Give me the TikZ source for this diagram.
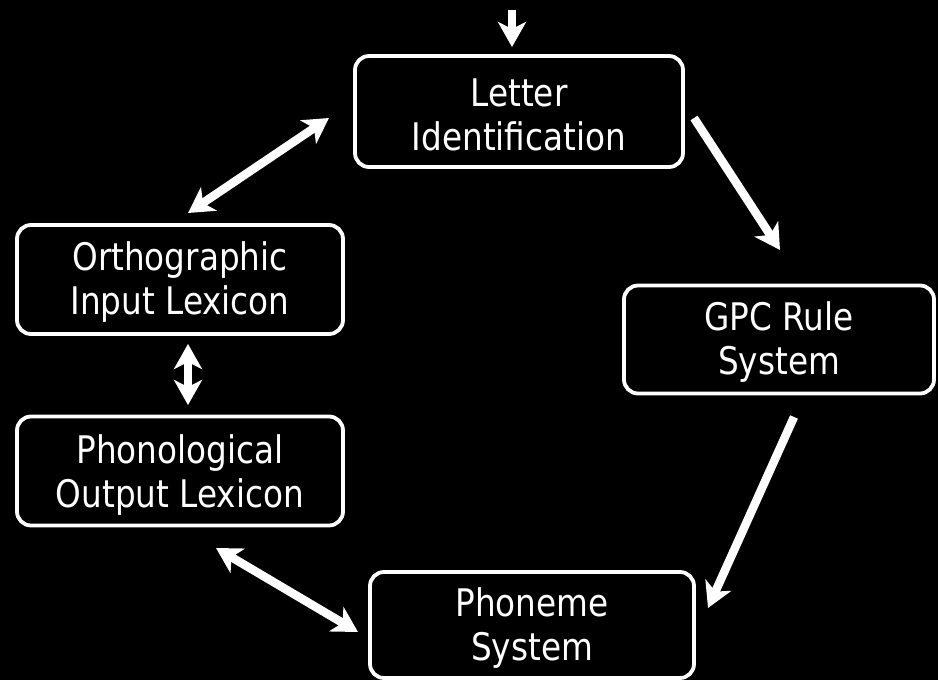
\documentclass[tikz,border=0pt]{standalone}
\usepackage{fontspec}
\setmainfont{DejaVu Sans}[FakeStretch=0.86]
\usetikzlibrary{arrows.meta}
\begin{document}
\begin{tikzpicture}[x=1pt,y=-1pt,
  stage/.style={draw=white, line width=3.8pt, rounded corners=14pt,
    fill=black, inner sep=0pt},
  caption/.style={text=white, align=center,
    font=\fontsize{38}{44}\selectfont, inner sep=0pt},
  flow/.style={draw=white, line width=8.5pt, -{Stealth[length=25pt, width=28pt, inset=7pt]}},
  dflow/.style={draw=white, line width=8.5pt,
    {Stealth[length=25pt, width=28pt, inset=7pt]}-{Stealth[length=25pt, width=28pt, inset=7pt]}}]
  % background
  \fill[black] (0,0) rectangle (938,680);
  \useasboundingbox (0,0) rectangle (938,680);

  % processing stages
  \node[stage, minimum width=328pt, minimum height=111pt] (li)  at (519,111.5) {};
  \node[stage, minimum width=326pt, minimum height=109pt] (oil) at (180,279.5) {};
  \node[stage, minimum width=326pt, minimum height=109pt] (pol) at (180,471)   {};
  \node[stage, minimum width=310pt, minimum height=108pt] (gpc) at (779,339.5) {};
  \node[stage, minimum width=324pt, minimum height=106pt] (ph)  at (532,625)   {};

  % stage names, set a little below each box centre
  \node[caption] (litext)  at ([yshift=-3pt]li.center)  {Letter\\Identification};
  \node[caption] (oiltext) at ([yshift=-3pt]oil.center) {Orthographic\\Input Lexicon};
  \node[caption] (poltext) at ([yshift=-4pt]pol.center) {Phonological\\Output Lexicon};
  \node[caption] (gpctext) at ([yshift=-3pt]gpc.center) {GPC Rule\\System};
  \node[caption] (phtext)  at ([yshift=-3pt]ph.center)  {Phoneme\\System};

  % arrow end points
  \coordinate (in)    at (512,10);
  \coordinate (liin)  at (512,47);
  \coordinate (lio)   at (329,118);
  \coordinate (oili)  at (188,213);
  \coordinate (oilp)  at (188,344);
  \coordinate (poli)  at (188,405);
  \coordinate (polph) at (216,548);
  \coordinate (phpol) at (358,632);
  \coordinate (ligp)  at (694,118);
  \coordinate (gpli)  at (780,250);
  \coordinate (gpph)  at (794,417);
  \coordinate (phgp)  at (708,608);

  % connections
  \draw[flow]  (in) -- (liin);
  \draw[dflow] (oili) -- (lio);
  \draw[dflow] (oilp) -- (poli);
  \draw[dflow] (polph) -- (phpol);
  \draw[flow]  (ligp) -- (gpli);
  \draw[flow]  (gpph) -- (phgp);
\end{tikzpicture}
\end{document}
